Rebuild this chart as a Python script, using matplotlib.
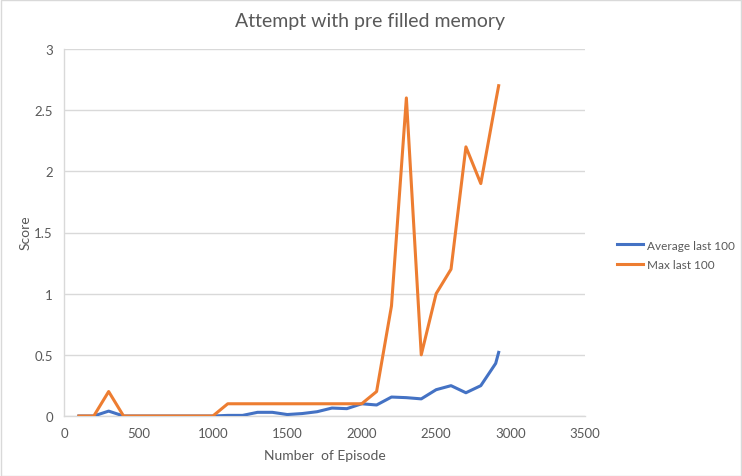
import matplotlib
matplotlib.use("Agg")

import matplotlib.pyplot as plt
from matplotlib.patches import Rectangle

# data
episodes = [100, 200, 300, 400, 500, 600, 700, 800, 900, 1000,
            1100, 1200, 1300, 1400, 1500, 1600, 1700, 1800, 1900, 2000,
            2100, 2200, 2300, 2400, 2500, 2600, 2700, 2800, 2900, 2920]
avg_last_100 = [0, 0, 0.04, 0, 0, 0, 0, 0, 0, 0,
                0.005, 0.005, 0.03, 0.03, 0.012, 0.02, 0.035, 0.065, 0.06, 0.1,
                0.09, 0.155, 0.15, 0.14, 0.215, 0.248, 0.19, 0.248, 0.43, 0.52]
max_last_100 = [0, 0, 0.2, 0, 0, 0, 0, 0, 0, 0,
                0.1, 0.1, 0.1, 0.1, 0.1, 0.1, 0.1, 0.1, 0.1, 0.1,
                0.2, 0.9, 2.6, 0.5, 1.0, 1.2, 2.2, 1.9, 2.57, 2.7]

TEXT = "#595959"
GRID = "#d9d9d9"

plt.rcParams["font.family"] = ["Lato", "DejaVu Sans"]

fig = plt.figure(figsize=(7.42, 4.77), dpi=100)
W, H = 742, 477
ax = fig.add_axes([64 / W, 1 - 417 / H, (585 - 64) / W, (417 - 50) / H])

ax.plot(episodes, avg_last_100, color="#4472C4", lw=2.2, label="Average last 100",
        solid_joinstyle="round", zorder=3)
ax.plot(episodes, max_last_100, color="#ED7D31", lw=2.2, label="Max last 100",
        solid_joinstyle="round", zorder=4)

ax.set_xlim(0, 3500)
ax.set_ylim(0, 3)
ax.set_xticks(range(0, 3501, 500))
ax.set_yticks([0, 0.5, 1, 1.5, 2, 2.5, 3])
ax.set_yticklabels(["0", "0.5", "1", "1.5", "2", "2.5", "3"])
ax.grid(axis="y", color=GRID, lw=1)
ax.set_axisbelow(True)
for side in ("top", "right"):
    ax.spines[side].set_visible(False)
for side in ("left", "bottom"):
    ax.spines[side].set_color(GRID)
    ax.spines[side].set_linewidth(1)
ax.tick_params(length=0, labelsize=9.5, colors=TEXT, pad=8)

ax.set_xlabel("Number  of Episode", fontsize=10, color=TEXT, labelpad=7)
# y label sits just left of the tick labels, as in the spreadsheet chart
fig.text(26 / W, 1 - 233 / H, "Score", rotation=90, ha="center", va="center",
         fontsize=10, color=TEXT)
fig.text(370 / W, 1 - 22 / H, "Attempt with pre filled memory", ha="center",
         va="center", fontsize=14, color=TEXT)

ax.legend(loc="center left", bbox_to_anchor=(617 / W, 1 - 256 / H),
          bbox_transform=fig.transFigure, frameon=False, fontsize=8.5,
          labelcolor=TEXT, handlelength=2.2, handletextpad=0.3,
          labelspacing=0.75, borderpad=0, borderaxespad=0)

# chart border like the spreadsheet chart
fig.patches.append(Rectangle((0.5 / W, 0.5 / H), 1 - 1.5 / W, 1 - 1.5 / H,
                             transform=fig.transFigure, fill=False,
                             edgecolor=GRID, lw=1))

fig.savefig("out.png", dpi=100)
